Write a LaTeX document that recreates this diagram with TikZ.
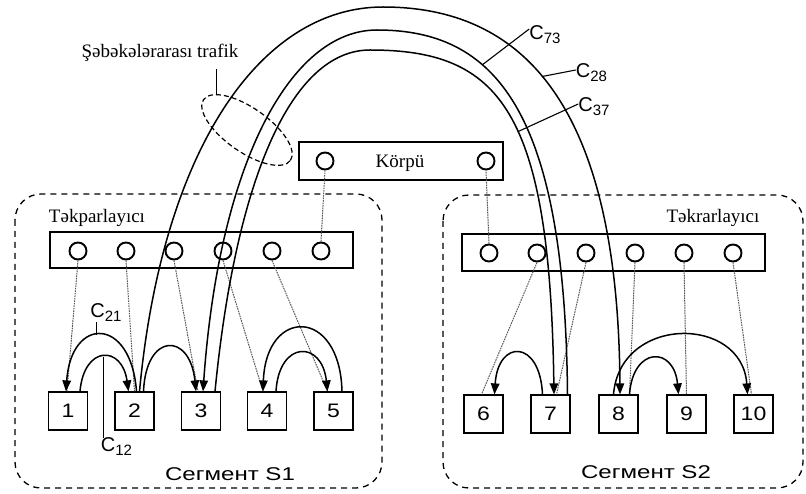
\documentclass[tikz,border=0pt]{standalone}
\usepackage{graphicx}
\usepackage{fontspec}
\setmainfont{Liberation Serif}
\newfontfamily\arialf{Liberation Sans}
\usetikzlibrary{arrows.meta,shapes.geometric,calc}
\begin{document}
\begin{tikzpicture}[x=1pt,y=-1pt,
  box/.style={draw,line width=1.2pt,minimum width=39pt,minimum height=38pt,inner sep=0pt,font=\arialf\fontsize{19.5}{19.5}\selectfont},
  port/.style={draw,circle,line width=1.9pt,minimum size=17pt,inner sep=0pt},
  bar/.style={draw,line width=1.3pt,inner sep=0pt},
  seg/.style={draw,line width=1.3pt,dash pattern=on 6pt off 5pt,rounded corners=26pt},
  link/.style={draw=black!65,line width=1pt,dash pattern=on 1.6pt off 0.9pt},
  flow/.style={line width=1.5pt,-{Triangle[length=11pt,width=8.5pt]}},
  clab/.style={font=\arialf\fontsize{20}{20}\selectfont,inner sep=0pt},
  serif/.style={font=\fontsize{19}{19}\selectfont,inner sep=0pt},
  seglab/.style={font=\arialf\fontsize{18.5}{18.5}\selectfont,inner sep=0pt},
  lead/.style={line width=1.1pt}
]
\useasboundingbox (0,0) rectangle (806,494);
\newcommand{\clabtxt}[1]{C\raisebox{-4pt}{\fontsize{15}{15}\selectfont #1}}
\newcommand{\wide}[2]{\scalebox{#1}[1]{#2}}

% segments
\draw[seg] (15,194) rectangle (382,488);
\draw[seg] (443,195) rectangle (803,488);

% hubs and bridge
\node[bar,minimum width=303pt,minimum height=36pt] (hub1) at (201.5,250) {};
\node[bar,minimum width=303pt,minimum height=37pt] (hub2) at (613.5,252.5) {};
\node[bar,minimum width=204pt,minimum height=38pt] (bridge) at (401,161) {};

\foreach \i/\x in {1/78,2/126,3/174,4/223,5/272,6/321}
  \node[port] (l\i) at (\x,251) {};
\foreach \i/\x in {1/489,2/537,3/586,4/635,5/684,6/733}
  \node[port] (r\i) at (\x,253) {};
\node[port] (k1) at (325,161) {};
\node[port] (k2) at (486,161) {};

% stations
\foreach \i/\x in {1/68,2/134.5,3/201,4/267,5/333.5}
  \node[box] (b\i) at (\x,411) {\wide{1.18}{\i}};
\foreach \i/\x in {6/483.5,7/550.5,8/618.5,9/686.5,10/753.5}
  \node[box] (b\i) at (\x,414) {\wide{1.18}{\i}};

% texts
\node[serif] (tkp) at (97,218) {Təkparlayıcı};
\node[serif] (tkr) at (713,218) {Təkrarlayıcı};
\node[serif] (kp) at (400,163) {Körpü};
\node[serif] (trf) at (160,53) {Şəbəkələrarası trafik};
\node[seglab] (s1) at (230,474) {\wide{1.3}{Сегмент S1}};
\node[seglab] (s2) at (646,472) {\wide{1.3}{Сегмент S2}};

\node[clab] (c21) at (106,313) {\clabtxt{21}};
\node[clab] (c12) at (116.5,447) {\clabtxt{12}};
\node[clab] (c73) at (545,35) {\clabtxt{73}};
\node[clab] (c28) at (591.5,73) {\clabtxt{28}};
\node[clab] (c37) at (594,107) {\clabtxt{37}};

% port links
\draw[link] (l1.south) -- ([xshift=-1pt]b1.north);
\draw[link] (l2.south) -- (b2.north);
\draw[link] (l3.south) -- ([xshift=-3pt]b3.north);
\draw[link] (l4.south) -- ([xshift=-4pt]b4.north);
\draw[link] (l5.south) -- ([xshift=-6pt]b5.north);
\draw[link] (l6.north) -- (k1.south);
\draw[link] (r1.north) -- (k2.south);
\draw[link] (r2.south) -- ([xshift=-2pt]b6.north);
\draw[link] (r3.south) -- ([xshift=6pt]b7.north);
\draw[link] (r4.south) -- ([xshift=11pt]b8.north);
\draw[link] (r5.south) -- (b9.north);
\draw[link] (r6.south) -- ([xshift=-2pt]b10.north);

% intersegment flows
\coordinate (top28) at (383,7);
\coordinate (top73) at (377,30);
\coordinate (top37) at (370,50);
\draw[flow] ([xshift=5pt]b2.north) .. controls (162,150) and (260,7) .. (top28)
  .. controls (520,7) and (618,100) .. coordinate[pos=0.46] (p28) ([xshift=1.5pt]b8.north);
\draw[flow] ([xshift=17pt]b7.north) .. controls (565,110) and (495,30) .. coordinate[pos=0.65] (p73) (top73)
  .. controls (290,30) and (219,164) .. ([xshift=2pt]b3.north);
\draw[flow] ([xshift=14pt]b3.north) .. controls (236,177) and (292,50) .. (top37)
  .. controls (500,50) and (550,110) .. coordinate[pos=0.55] (p37) ([xshift=3.5pt]b7.north);

% local flows
\draw[flow] ([xshift=2pt]b2.north) .. controls (131,316) and (71,316) .. coordinate[pos=0.55] (p21) ([xshift=-2pt]b1.north);
\draw[flow] ([xshift=12pt]b1.north) .. controls (84,345) and (122,345) .. coordinate[pos=0.5] (p12) ([xshift=-6pt]b2.north);
\draw[flow] ([xshift=9pt]b2.north) .. controls (146,332) and (190,332) .. ([xshift=-5pt]b3.north);
\draw[flow] ([xshift=8.5pt]b5.north) .. controls (340,307) and (266,307) .. ([xshift=-4pt]b4.north);
\draw[flow] ([xshift=9pt]b4.north) .. controls (279,340) and (322,340) .. ([xshift=-6pt]b5.north);
\draw[flow] ([xshift=-8pt]b7.north) .. controls (540,339) and (498,339) .. ([xshift=11pt]b6.north);
\draw[flow] ([xshift=11pt]b8.north) .. controls (633,346) and (674,346) .. ([xshift=-8pt]b9.north);
\draw[flow] ([xshift=-5pt]b8.north) .. controls (620,315) and (742,315) .. ([xshift=-6pt]b10.north);

% ellipse and leaders
\node[draw,ellipse,line width=1.2pt,dash pattern=on 5pt off 3pt,minimum width=106pt,minimum height=44pt,inner sep=0pt,rotate=-35] (ell) at (247,130) {};
\draw[lead] (ell.165) -- ($(ell.165 |- trf.south)+(0,7)$);
\draw[lead] ([yshift=6pt]c73.west) -- (p73);
\draw[lead] ([yshift=3pt]c28.west) -- (p28);
\draw[lead] ([yshift=3pt]c37.west) -- (p37);
\draw[lead] (p21 |- c21.south) -- (p21);
\draw[lead] (p12) -- (p12 |- c12.north);
\end{tikzpicture}
\end{document}
